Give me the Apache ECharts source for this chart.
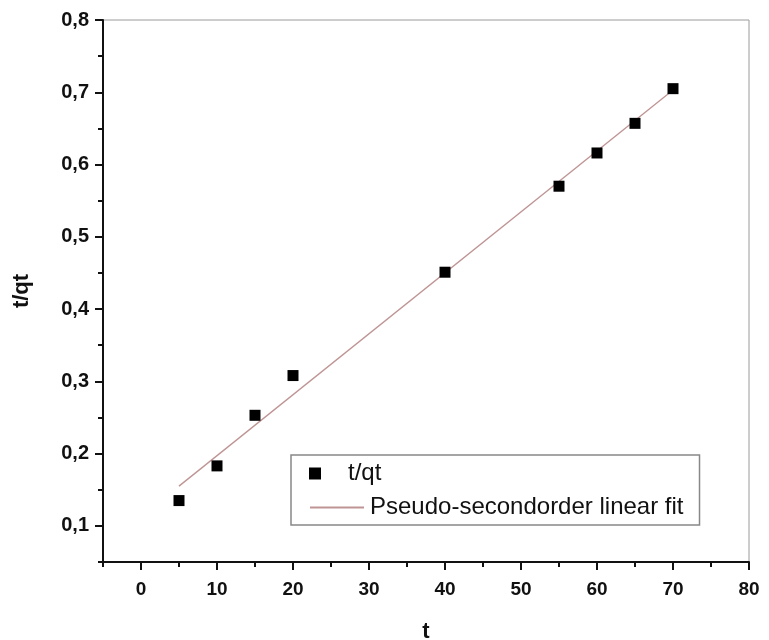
<!DOCTYPE html>
<html>
<head>
<meta charset="utf-8">
<script src="https://cdn.jsdelivr.net/npm/echarts@6/dist/echarts.min.js"></script>
<style>html,body{margin:0;padding:0;background:#fff;}#chart{width:769px;height:640px;}</style>
</head>
<body>
<div id="chart"></div>
<script>
// Data
const tValues = [5, 10, 15, 20, 40, 55, 60, 65, 70];
const tqtValues = [0.135, 0.183, 0.253, 0.308, 0.451, 0.570, 0.616, 0.657, 0.705];
const fitX = [5, 70];
const fitY = [0.155, 0.703];
const xMajorTicks = [0, 10, 20, 30, 40, 50, 60, 70, 80];
const xMinorTicks = [-5, 5, 15, 25, 35, 45, 55, 65, 75];
const yMajorTicks = [0.1, 0.2, 0.3, 0.4, 0.5, 0.6, 0.7, 0.8];
const yMinorTicks = [0.05, 0.15, 0.25, 0.35, 0.45, 0.55, 0.65, 0.75];
const seriesNames = ['t/qt', 'Pseudo-secondorder linear fit'];

const font = 'Liberation Sans, Arial, sans-serif';
const chart = echarts.init(document.getElementById('chart'), null, {renderer: 'canvas'});

const scatterData = tValues.map((t, i) => [t, tqtValues[i]]);
const fitData = fitX.map((x, i) => [x, fitY[i]]);
const legendText = {fontFamily: font, fontSize: 24, color: '#111', lineHeight: 27, padding: [0, 0, 0, 1]};

const option = {
  backgroundColor: '#fff',
  animation: false,
  grid: {left: 103, right: 20, top: 20, bottom: 78, show: true, borderColor: '#9a9a9a', borderWidth: 1,
    containLabel: false, outerBoundsMode: 'none'},
  legend: [
    {
      data: [seriesNames[1]],
      orient: 'vertical',
      left: 291, top: 455,
      padding: [39, 16, 4, 18],
      borderColor: '#888', borderWidth: 1.5,
      itemWidth: 54, itemHeight: 14,
      itemStyle: {opacity: 0},
      textStyle: legendText,
      selectedMode: false
    },
    {
      data: [{name: seriesNames[0], icon: 'path://M0 0H10V10H0Z'}],
      orient: 'vertical',
      left: 309, top: 460,
      padding: 0,
      itemWidth: 54, itemHeight: 12,
      symbolKeepAspect: true,
      itemStyle: {color: '#000', opacity: 1},
      textStyle: legendText,
      selectedMode: false
    }
  ],
  xAxis: [
    {
      type: 'value', min: -5, max: 80, position: 'bottom',
      name: 't', nameLocation: 'middle', nameGap: 59,
      nameTextStyle: {fontFamily: font, fontSize: 22, fontWeight: 'bold', color: '#111'},
      axisLine: {show: true, onZero: false, lineStyle: {color: '#111', width: 2}},
      axisTick: {show: true, inside: false, length: 8, lineStyle: {color: '#111', width: 2}, customValues: xMajorTicks},
      axisLabel: {show: true, customValues: xMajorTicks, margin: 18, fontFamily: font, fontSize: 19, fontWeight: 'bold', color: '#111'},
      splitLine: {show: false}
    },
    {
      type: 'value', min: -5, max: 80, position: 'bottom',
      axisLine: {show: false, onZero: false},
      axisTick: {show: true, inside: false, length: 5, lineStyle: {color: '#111', width: 2}, customValues: xMinorTicks},
      axisLabel: {show: false},
      splitLine: {show: false}
    }
  ],
  yAxis: [
    {
      type: 'value', min: 0.05, max: 0.8, position: 'left',
      name: 't/qt', nameLocation: 'middle', nameGap: 70, nameRotate: 90,
      nameTextStyle: {fontFamily: font, fontSize: 22, fontWeight: 'bold', color: '#111'},
      axisLine: {show: true, onZero: false, lineStyle: {color: '#111', width: 2}},
      axisTick: {show: true, inside: false, length: 8, lineStyle: {color: '#111', width: 2}, customValues: yMajorTicks},
      axisLabel: {show: true, customValues: yMajorTicks, margin: 14, fontFamily: font, fontSize: 20, fontWeight: 'bold', color: '#111',
        formatter: v => v.toFixed(1).replace('.', ',')},
      splitLine: {show: false}
    },
    {
      type: 'value', min: 0.05, max: 0.8, position: 'left',
      axisLine: {show: false, onZero: false},
      axisTick: {show: true, inside: false, length: 5, lineStyle: {color: '#111', width: 2}, customValues: yMinorTicks},
      axisLabel: {show: false},
      splitLine: {show: false}
    }
  ],
  series: [
    {
      name: seriesNames[1], type: 'line', xAxisIndex: 0, yAxisIndex: 0,
      data: fitData, symbol: 'none', showSymbol: false,
      lineStyle: {color: '#bf9494', width: 1.3},
      itemStyle: {color: '#bf9494'},
      z: 2
    },
    {
      name: seriesNames[0], type: 'scatter', xAxisIndex: 0, yAxisIndex: 0,
      data: scatterData, symbol: 'rect', symbolSize: 11,
      itemStyle: {color: '#000', opacity: 1},
      z: 3
    }
  ]
};
chart.setOption(option);
</script>
</body>
</html>
